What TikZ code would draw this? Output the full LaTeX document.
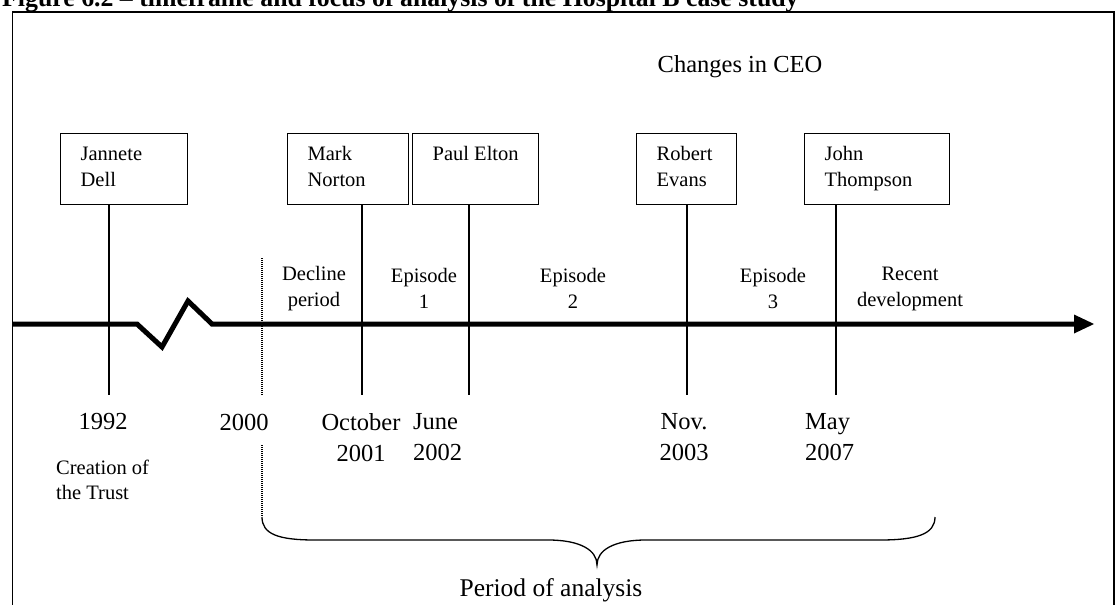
\documentclass[tikz,border=0pt]{standalone}
\usepackage{fontspec}
\setmainfont{Liberation Serif}
\usetikzlibrary{arrows.meta}
\begin{document}
\begin{tikzpicture}[x=1pt,y=-1pt,
  small/.style={font=\fontsize{20.5}{26}\selectfont},
  big/.style={font=\fontsize{24.5}{31}\selectfont},
  cbox/.style={draw, line width=1.3pt, inner xsep=20pt, inner ysep=13pt, anchor=north west, small},
  stem/.style={line width=1.3pt},
  dotline/.style={line width=1.1pt, dash pattern=on 1pt off 1pt},
  plain/.style={inner sep=0pt},
  timeline/.style={line width=5pt},
  bracepath/.style={line width=1.3pt}]
\useasboundingbox (0,0) rectangle (1117,605);
\clip (0,0) rectangle (1117,605);
\fill[white] (0,0) rectangle (1117,605);
% title (partly cut off)
\node[plain, anchor=base west, font=\bfseries\fontsize{25.8}{26}\selectfont] (title) at (2,6.5) {Figure 6.2 – timeframe and focus of analysis of the Hospital B case study};
% frame
\coordinate (fbl) at (12.5,640);
\coordinate (ftl) at (12.5,12);
\coordinate (ftr) at (1114,12);
\coordinate (fbr) at (1114,640);
\draw[line width=1.5pt] (fbl) -- (ftl) -- (ftr) -- (fbr);
% heading
\node[plain, big] (ceo) at (740,67) {Changes in CEO};
% CEO boxes
\node[cbox] (jd) at (60,133) {\parbox[c][45pt][t]{87pt}{\raggedright Jannete\\Dell}};
\node[cbox] (mn) at (287,133) {\parbox[c][45pt][t]{81pt}{\raggedright Mark\\Norton}};
\node[cbox] (pe) at (412,133) {\parbox[c][45pt][t]{86pt}{\raggedright Paul~Elton}};
\node[cbox] (re) at (636,133) {\parbox[c][45pt][t]{60pt}{\raggedright Robert\\Evans}};
\node[cbox] (jt) at (804,133) {\parbox[c][45pt][t]{105pt}{\raggedright John\\Thompson}};
% stems
\coordinate (s1) at (109,395);
\coordinate (s2) at (362,395);
\coordinate (s3) at (469,395);
\coordinate (s4) at (687,395);
\coordinate (s5) at (836,395);
\draw[stem] (jd.south -| s1) -- (s1);
\draw[stem] (mn.south -| s2) -- (s2);
\draw[stem] (pe.south -| s3) -- (s3);
\draw[stem] (re.south -| s4) -- (s4);
\draw[stem] (jt.south -| s5) -- (s5);
% timeline
\coordinate (t0) at (13,324);
\coordinate (z1) at (137,324);
\coordinate (z2) at (162,347);
\coordinate (z3) at (188,301);
\coordinate (z4) at (212,324);
\coordinate (tend) at (1094,324);
\draw[timeline] (t0) -- (z1) -- (z2) -- (z3) -- (z4) -- (1080,324);
\fill (1074,314.5) -- (tend) -- (1074,333.5) -- cycle;
% dotted line for 2000
\coordinate (d1) at (262,258);
\coordinate (d2) at (262,395);
\coordinate (d3) at (262,445);
\coordinate (b0) at (262,517);
\draw[dotline] (d1) -- (d2);
\draw[dotline] (d3) -- (b0);
% period labels
\node[plain, small, align=center] (lp0) at (314,288.5) {Decline\\period};
\node[plain, small, align=center] (lp1) at (424,288.5) {Episode\\1};
\node[plain, small, align=center] (lp2) at (573,288.5) {Episode\\2};
\node[plain, small, align=center] (lp3) at (773,288.5) {Episode\\3};
\node[plain, small, align=center] (lp4) at (910,288.5) {Recent\\development};
% years
\node[plain, big] (y1992) at (103,422) {1992};
\node[plain, big] (y2000) at (244,422) {2000};
\node[plain, big, align=center] (y2001) at (361,437.5) {October\\2001};
\node[plain, big, align=left, anchor=west] (y2002) at (413,437.5) {June\\2002};
\node[plain, big, align=center] (y2003) at (684,437.5) {Nov.\\2003};
\node[plain, big, align=left, anchor=west] (y2007) at (805,437.5) {May\\2007};
\node[plain, align=left, anchor=west, font=\fontsize{20.5}{25}\selectfont] (trust) at (56,479.5) {Creation of\\the Trust};
% brace
\coordinate (btip) at (597,565);
\coordinate (b1) at (935,517);
\draw[bracepath] (b0) .. controls (262,534) and (278,540) .. (315,540) -- (548,540)
  .. controls (580,540) and (597,550) .. (btip)
  .. controls (597,550) and (614,540) .. (646,540) -- (880,540)
  .. controls (917,540) and (935,534) .. (b1);
\node[plain, font=\fontsize{25.5}{31}\selectfont] (poa) at (551,590) {Period of analysis};
\end{tikzpicture}
\end{document}
